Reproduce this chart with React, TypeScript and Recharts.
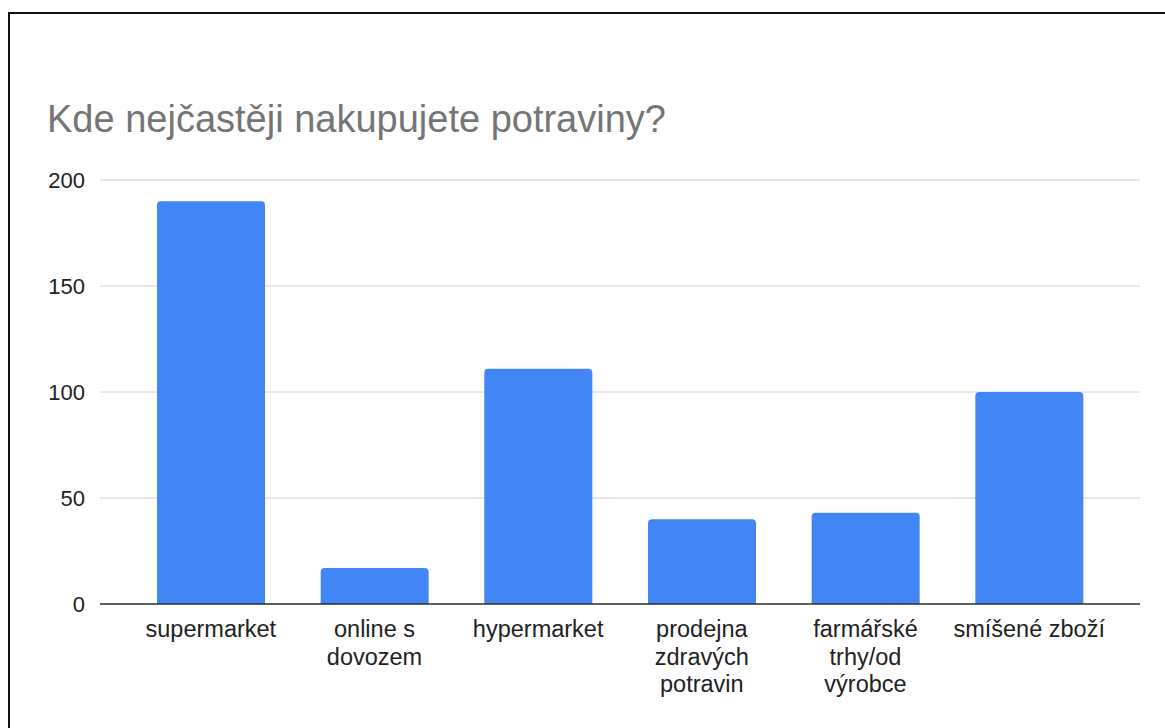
import { BarChart, Bar, XAxis, YAxis, CartesianGrid } from 'recharts'

const categories = [
  'supermarket',
  'online s\ndovozem',
  'hypermarket',
  'prodejna\nzdravých\npotravin',
  'farmářské\ntrhy/od\nvýrobce',
  'smíšené zboží',
]
const counts = [190, 17, 111, 40, 43, 100]
const yTicks = [0, 50, 100, 150, 200]

const data = categories.map((name, i) => ({ name, count: counts[i] }))

const FONT = '"Liberation Sans", Arial, sans-serif'

function CategoryTick(props: any) {
  const { x, y, payload } = props
  const lines = String(payload.value).split('\n')
  return (
    <text x={x} y={y} textAnchor="middle" fill="#222" fontSize={23.5} fontFamily={FONT}>
      {lines.map((l, i) => (
        <tspan key={i} x={x} dy={i === 0 ? 28 : 27.5}>{l}</tspan>
      ))}
    </text>
  )
}

export default function App() {
  return (
    <div style={{
      position: 'fixed', left: 8, top: 12, width: 1157, height: 716,
      borderLeft: '2px solid #111', borderTop: '2px solid #111', background: '#fff',
    }}>
      <div style={{
        position: 'absolute', left: 37, top: 86, fontFamily: FONT, fontSize: 38,
        lineHeight: '38px', color: '#757575', whiteSpace: 'nowrap',
      }}>
        Kde nejčastěji nakupujete potraviny?
      </div>
      <div style={{ position: 'absolute', left: 0, top: 0 }}>
        <BarChart width={1155} height={714} data={data}
          margin={{ top: 166, right: 25, bottom: 0, left: 0 }}
          barCategoryGap={28}>
          <CartesianGrid vertical={false} stroke="#d0d0d0" />
          <XAxis dataKey="name" height={124} interval={0}
            padding={{ left: 29, right: 29 }}
            axisLine={{ stroke: '#333', strokeWidth: 1.5 }} tickLine={false}
            tickSize={0} tickMargin={5} tick={<CategoryTick />} />
          <YAxis width={90} domain={[0, 200]} ticks={yTicks}
            axisLine={false} tickLine={false} tickSize={0} tickMargin={15}
            tick={{ fill: '#222', fontSize: 22, fontFamily: FONT }} />
          <Bar dataKey="count" fill="#4285F4" radius={[4, 4, 0, 0]} isAnimationActive={false} />
        </BarChart>
      </div>
    </div>
  )
}
